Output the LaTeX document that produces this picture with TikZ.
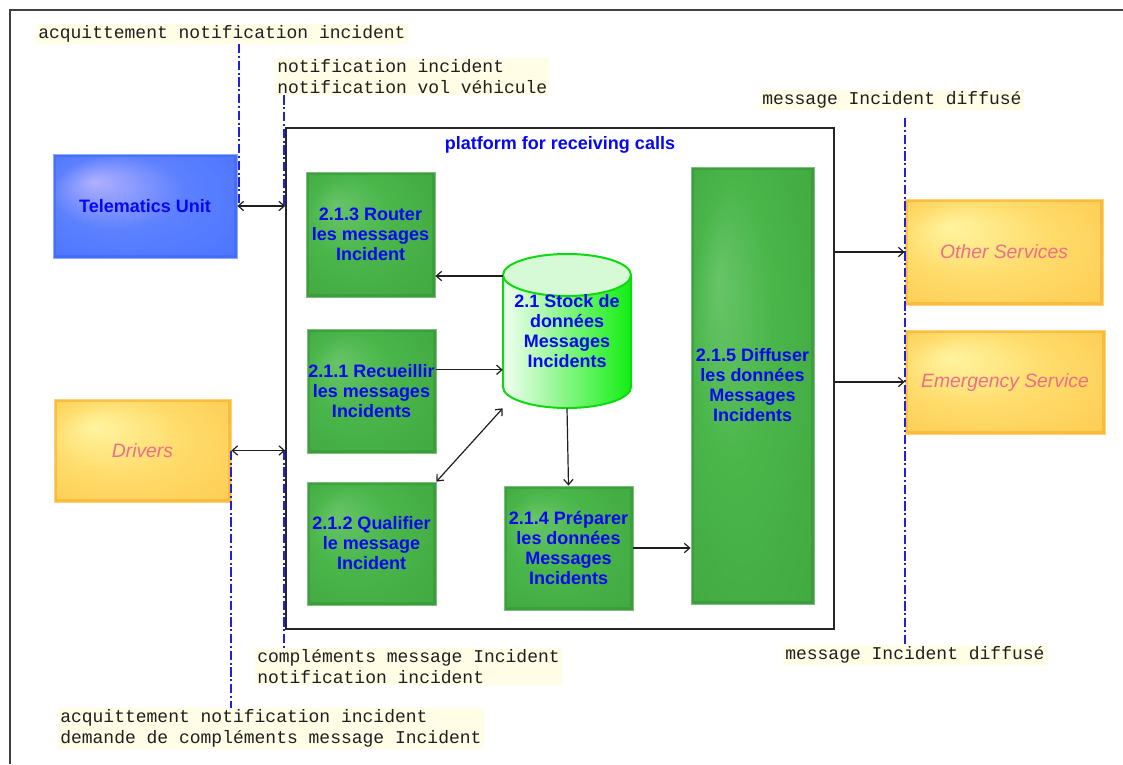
\documentclass[tikz,border=0pt]{standalone}
\usepackage{fontspec}
\setmainfont{Liberation Sans}
\newfontfamily\labelmono{Liberation Mono}
\usetikzlibrary{arrows.meta,calc}

\definecolor{procblue}{HTML}{0808F0}
\definecolor{actorpink}{HTML}{EE6E86}
\definecolor{labelbg}{HTML}{FFFDE6}
\definecolor{linkblue}{HTML}{2020E0}
\definecolor{frameline}{HTML}{404040}
% process boxes (green)
\definecolor{gLight}{HTML}{68C468}
\definecolor{gMid}{HTML}{4AB64A}
\definecolor{gDark}{HTML}{40A840}
\definecolor{gBand}{HTML}{3A933A}
\definecolor{gEdge}{HTML}{7CBF7C}
% telematics box (blue)
\definecolor{bLight}{HTML}{B0B0FF}
\definecolor{bMid}{HTML}{5C80FF}
\definecolor{bDark}{HTML}{4A74FF}
\definecolor{bBand}{HTML}{3C66F5}
\definecolor{bEdge}{HTML}{8EACFF}
% external actors (orange)
\definecolor{oLight}{HTML}{FFF4A0}
\definecolor{oMid}{HTML}{FFDC6C}
\definecolor{oDark}{HTML}{FCCB50}
\definecolor{oBand}{HTML}{F5AA22}
\definecolor{oEdge}{HTML}{FFD27A}
% data store
\definecolor{cylL}{HTML}{F2FFF2}
\definecolor{cylM}{HTML}{70F870}
\definecolor{cylR}{HTML}{12EE12}
\definecolor{cylTop}{HTML}{D6FAD6}
\definecolor{cylEdge}{HTML}{10D810}

% soft highlight towards the upper left of each box
\pgfdeclareradialshading{greenglow}{\pgfpoint{-14bp}{12bp}}{color(0bp)=(gLight);color(16bp)=(gMid);color(38bp)=(gDark)}
\pgfdeclareradialshading{blueglow}{\pgfpoint{-14bp}{12bp}}{color(0bp)=(bLight);color(18bp)=(bMid);color(38bp)=(bDark)}
\pgfdeclareradialshading{orangeglow}{\pgfpoint{-14bp}{12bp}}{color(0bp)=(oLight);color(18bp)=(oMid);color(38bp)=(oDark)}

\tikzset{
  boxtext/.style={font=\fontsize{13.5}{15}\selectfont\bfseries, text=procblue, align=center},
  procbox/.style={boxtext, rectangle, inner sep=0pt, shade, shading=greenglow,
    draw=gEdge, line width=0.6pt,
    path picture={\draw[gBand, line width=4pt, opacity=0.55]
      (path picture bounding box.south west) rectangle (path picture bounding box.north east);}},
  unitbox/.style={boxtext, rectangle, inner sep=0pt, shade, shading=blueglow,
    draw=bEdge, line width=0.6pt,
    path picture={\draw[bBand, line width=4pt, opacity=0.5]
      (path picture bounding box.south west) rectangle (path picture bounding box.north east);}},
  actorbox/.style={rectangle, inner sep=0pt, shade, shading=orangeglow,
    draw=oEdge, line width=0.6pt,
    font=\fontsize{14.5}{16}\selectfont\itshape, text=actorpink,
    path picture={\draw[oBand, line width=4pt, opacity=0.5]
      (path picture bounding box.south west) rectangle (path picture bounding box.north east);}},
  flowlabel/.style={fill=labelbg, font=\labelmono\fontsize{13.5}{15.75}\selectfont,
    text=black!88, align=left, inner xsep=1.5pt, inner ysep=1pt, anchor=north west},
  flow/.style={draw=black!88, line width=0.9pt, -{Straight Barb[length=4pt,width=7pt]}},
  flowboth/.style={draw=black!88, line width=0.9pt,
    {Straight Barb[length=4pt,width=7pt]}-{Straight Barb[length=4pt,width=7pt]}},
  link/.style={draw=linkblue, line width=1.5pt, dash pattern=on 7pt off 2pt on 1.5pt off 2pt},
}

\begin{document}
\begin{tikzpicture}[x=0.75pt, y=-0.75pt]
\useasboundingbox (0,0) rectangle (1123,764);
\fill[white] (0,0) rectangle (1123,764);

% outer frame
\draw[frameline, line width=1.1pt] (10,764) -- (10,10) -- (1123,10);

% platform container
\node[draw=black!85, line width=1.3pt, rectangle, inner sep=0pt,
      minimum width=411pt, minimum height=375.75pt] (plat) at (560,378.5) {};
\node[boxtext] (title) at (560,145) {platform for receiving calls};

% external entities
\node[unitbox, minimum width=138pt, minimum height=78pt] (tel) at (145,206) {Telematics Unit};
\node[actorbox, minimum width=132.75pt, minimum height=77.25pt] (drv) at (142.5,450.5) {Drivers};
\node[actorbox, minimum width=148.5pt, minimum height=79.5pt] (other) at (1004,252) {Other Services};
\node[actorbox, minimum width=150pt, minimum height=78pt] (emerg) at (1005,382) {Emergency Service};

% processes
\node[procbox, minimum width=96.75pt, minimum height=93.75pt] (r213) at (370.5,234.5)
  {2.1.3 Router\\les messages\\Incident};
\node[procbox, minimum width=96.75pt, minimum height=93pt] (r211) at (371.5,391)
  {2.1.1 Recueillir\\les messages\\Incidents};
\node[procbox, minimum width=96.75pt, minimum height=92.25pt] (r212) at (371.5,543.5)
  {2.1.2 Qualifier\\le message\\Incident};
\node[procbox, minimum width=96.75pt, minimum height=93pt] (r214) at (568.5,548)
  {2.1.4 Préparer\\les données\\Messages\\Incidents};
\node[procbox, minimum width=92.25pt, minimum height=327.75pt] (r215) at (752.5,385.5)
  {2.1.5 Diffuser\\les données\\Messages\\Incidents};

% data store cylinder
\shade[left color=cylL, middle color=cylM, right color=cylR]
  (503,275) -- (503,387) arc[start angle=180, end angle=360, x radius=48pt, y radius=15.75pt]
  -- (631,275) -- cycle;
\draw[cylEdge, line width=1.5pt]
  (503,275) -- (503,387) arc[start angle=180, end angle=360, x radius=48pt, y radius=15.75pt]
  -- (631,275);
\draw[cylEdge, fill=cylTop, line width=1.5pt] (567,275) ellipse [x radius=48pt, y radius=15.75pt];
\node[boxtext, inner sep=0pt, minimum width=96pt, minimum height=115.5pt] (stock) at (567,331)
  {2.1 Stock de\\données\\Messages\\Incidents};

% flow labels
\node[flowlabel] (L1) at (36,24) {acquittement notification incident};
\node[flowlabel] (L2) at (275,58) {notification incident\\notification vol véhicule};
\node[flowlabel] (L3) at (760,90) {message Incident diffusé};
\node[flowlabel] (L4) at (783,645) {message Incident diffusé};
\node[flowlabel] (L5) at (255,648) {compléments message Incident\\notification incident};
\node[flowlabel] (L6) at (58,708) {acquittement notification incident\\demande de compléments message Incident};

% label leaders
\draw[link] ([xshift=1.5pt]L1.south -| tel.east) -- ([xshift=1.5pt]tel.east);
\draw[link] ([xshift=-1pt]L2.south -| plat.west) -- ([xshift=-1pt]tel.east -| plat.west);
\draw[link] (drv.east) -- (drv.east |- L6.north);
\draw[link] ([xshift=-1pt]drv.east -| plat.west) -- ([xshift=-1pt]plat.west |- L5.north);
\draw[link, shorten <=6pt] (L3.south -| other.west) -- (other.west |- L4.north);

% flows
\draw[flowboth] (tel.east) -- (tel.east -| plat.west);
\draw[flowboth] (drv.east) -- (drv.east -| plat.west);
\path (r213.north east) -- (r213.south east) coordinate[pos=0.83] (r213in);
\draw[flow] (stock.west |- r213in) -- (r213in);
\path (r211.north east) -- (r211.south east) coordinate[pos=0.33] (r211out);
\draw[flow] (r211out) -- (r211out -| stock.west);
\draw[flowboth] (r212.north east) -- (stock.south west);
\draw[flow] (stock.south) -- (r214.north);
\draw[flow] (r214.east) -- (r214.east -| r215.west);
\draw[flow] (other.west -| plat.east) -- (other.west);
\draw[flow] (emerg.west -| plat.east) -- (emerg.west);
\end{tikzpicture}
\end{document}
